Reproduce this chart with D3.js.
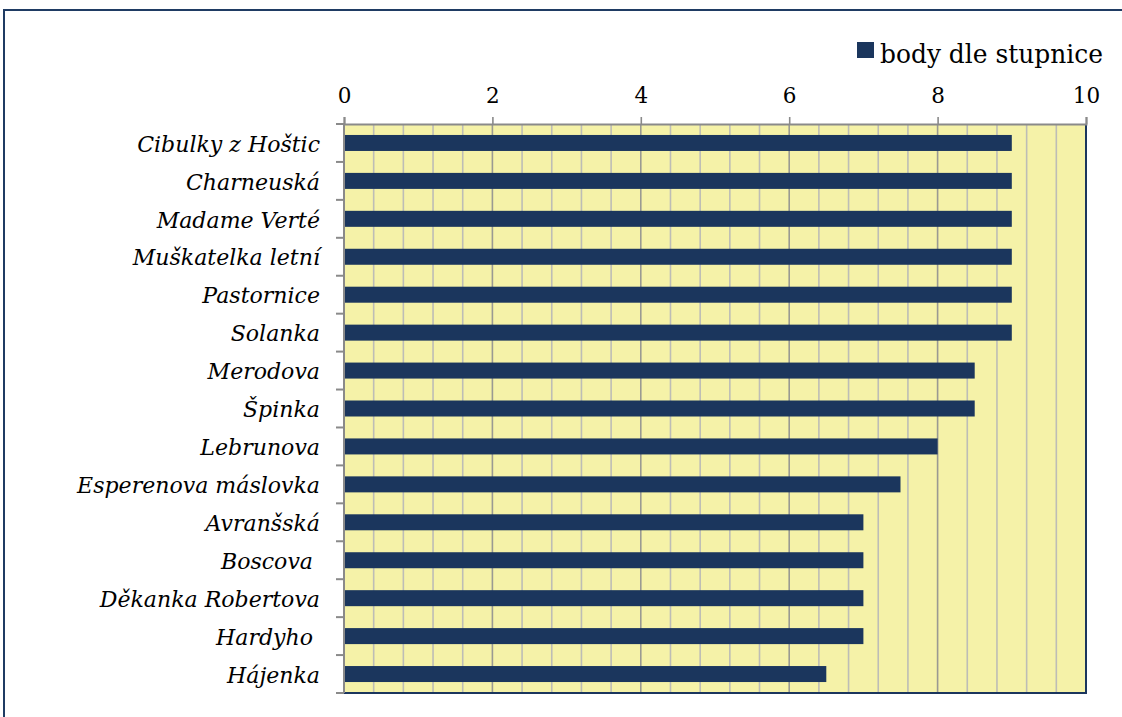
<!DOCTYPE html>
<html>
<head>
<meta charset="utf-8">
<script src="https://cdn.jsdelivr.net/npm/d3@7"></script>
<style>
  body { margin: 0; background: #fff; overflow: hidden; }
  svg { display: block; overflow: hidden; }
  svg text { font-family: "DejaVu Serif", serif; }
</style>
</head>
<body>
<svg id="chart" width="1122" height="717"></svg>
<script>
// Pear varieties and their score on the rating scale
const categories = [
  "Cibulky z Hoštic", "Charneuská", "Madame Verté", "Muškatelka letní",
  "Pastornice", "Solanka", "Merodova", "Špinka", "Lebrunova",
  "Esperenova máslovka", "Avranšská", "Boscova ", "Děkanka Robertova",
  "Hardyho ", "Hájenka"
];
const scores = [9, 9, 9, 9, 9, 9, 8.5, 8.5, 8, 7.5, 7, 7, 7, 7, 6.5];
const tickValues = [0, 2, 4, 6, 8, 10];
const seriesName = "body dle stupnice";

(function draw() {
  const svg = d3.select("#chart");
  const navy = "#1b365d";

  const plotLeft = 344, plotRight = 1086, plotTop = 124, plotBottom = 693;

  const x = d3.scaleLinear().domain([0, 10]).range([plotLeft, plotRight]);
  const y = d3.scaleBand().domain(categories).range([plotTop, plotBottom]);
  const barH = 16;

  // outer chart frame (only its top and left edges fall inside the page)
  svg.append("path")
    .attr("d", "M1200,10H4V800")
    .attr("fill", "none").attr("stroke", "#1f3b63").attr("stroke-width", 2);

  // plot area background
  svg.append("rect")
    .attr("x", plotLeft).attr("y", plotTop)
    .attr("width", plotRight - plotLeft).attr("height", plotBottom - plotTop)
    .attr("fill", "#f5f2a8");

  // vertical gridlines: minor every 0.4, major at labelled ticks
  const minor = d3.range(0, 26).map(i => +(i * 0.4).toFixed(1)).filter(v => v > 0 && v < 10);
  svg.append("g").selectAll("line").data(minor).join("line")
    .attr("x1", d => x(d)).attr("x2", d => x(d))
    .attr("y1", plotTop).attr("y2", plotBottom)
    .attr("stroke", d => tickValues.includes(d) ? "#9a9a92" : "#bdbdb6")
    .attr("stroke-width", 1.6);

  // bars
  svg.append("g").selectAll("rect").data(categories).join("rect")
    .attr("x", x(0) + 1)
    .attr("y", d => y(d) + y.bandwidth() / 2 - barH / 2)
    .attr("width", (d, i) => x(scores[i]) - x(0) - 1)
    .attr("height", barH)
    .attr("fill", navy);

  // plot-area border on the bottom and right
  svg.append("path")
    .attr("d", `M${plotLeft},${plotBottom}H${plotRight}V${plotTop}`)
    .attr("fill", "none").attr("stroke", navy).attr("stroke-width", 2);

  // top value axis
  const xAxis = d3.axisTop(x).tickValues(tickValues).tickSize(7).tickPadding(14).tickFormat(d3.format("d"));
  const gx = svg.append("g").attr("transform", `translate(0,${plotTop})`).call(xAxis);
  gx.attr("font-family", null);
  gx.select(".domain").attr("stroke", "#8a8a8a").attr("stroke-width", 2);
  gx.selectAll(".tick line").attr("stroke", "#8a8a8a").attr("stroke-width", 1.6);
  gx.selectAll(".tick text").attr("font-size", 21.5).attr("fill", "#000").attr("dy", 0);

  // left category axis with ticks between categories
  svg.append("line")
    .attr("x1", plotLeft).attr("x2", plotLeft).attr("y1", plotTop).attr("y2", plotBottom)
    .attr("stroke", "#8a8a8a").attr("stroke-width", 2);
  const boundaries = categories.map(c => y(c)).concat([plotBottom]);
  svg.append("g").selectAll("line").data(boundaries).join("line")
    .attr("x1", plotLeft - 8).attr("x2", plotLeft)
    .attr("y1", d => d).attr("y2", d => d)
    .attr("stroke", "#8a8a8a").attr("stroke-width", 2);

  // category labels, narrowed horizontally to a Times-like width
  const labels = svg.append("g").selectAll("text").data(categories).join("text")
    .attr("text-anchor", "end")
    .attr("font-style", "italic").attr("font-size", 22.5)
    .attr("fill", "#000")
    .style("white-space", "pre")
    .text(d => d);
  const firstLen = labels.node().getComputedTextLength();
  const labelScale = 183 / firstLen;
  labels.attr("transform", d => `translate(320,${y(d) + y.bandwidth() / 2 + 8.7}) scale(${labelScale},1)`);

  // legend
  const legend = svg.append("g");
  legend.append("rect")
    .attr("x", 857).attr("y", 42).attr("width", 17).attr("height", 16).attr("fill", navy);
  const legendText = legend.append("text")
    .attr("font-size", 26).attr("fill", "#000")
    .text(seriesName);
  const legendScale = 223 / legendText.node().getComputedTextLength();
  legendText.attr("transform", `translate(880,63.3) scale(${legendScale},1)`);
})();
</script>
</body>
</html>
